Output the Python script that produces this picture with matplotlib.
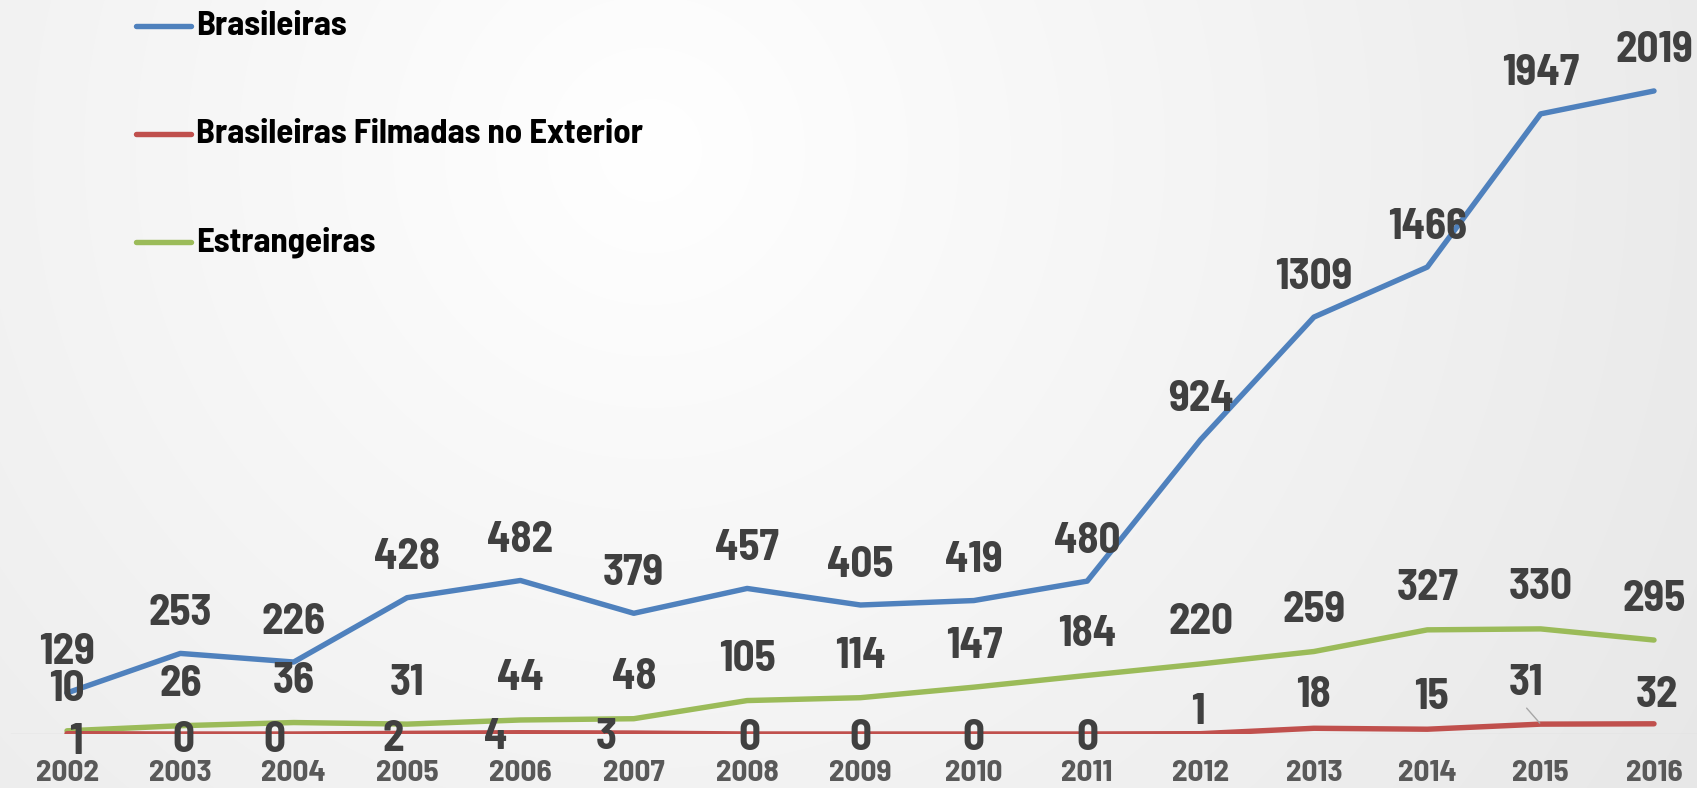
import numpy as np
import matplotlib
matplotlib.use("Agg")
import matplotlib.pyplot as plt
from matplotlib.lines import Line2D

# ---------------- data ----------------
years = [2002, 2003, 2004, 2005, 2006, 2007, 2008, 2009, 2010, 2011, 2012, 2013, 2014, 2015, 2016]
brasileiras = [129, 253, 226, 428, 482, 379, 457, 405, 419, 480, 924, 1309, 1466, 1947, 2019]
filmadas_exterior = [1, 0, 0, 2, 4, 3, 0, 0, 0, 0, 1, 18, 15, 31, 32]
estrangeiras = [10, 26, 36, 31, 44, 48, 105, 114, 147, 184, 220, 259, 327, 330, 295]
series_names = ["Brasileiras", "Brasileiras Filmadas no Exterior", "Estrangeiras"]

# ---------------- style ----------------
DPI = 100
W, H = 1697, 788
colors = ["#4F81BD", "#C0504D", "#9BBB59"]
COND = ["Barlow Semi Condensed", "DejaVu Sans"]
LABEL_COLOR = "#404040"
YEAR_COLOR = "#595959"
LW = 3.9

# label offsets in pixels (dx, dy up) for red series
red_dx = [9, 3, -19, -14, -25, -28, 2, 0, 0, 0, -3, 0, 4, -15, 3]
red_dy = [-9, -6, -6, -6, -5, -4, -4, -4, -4, -4, 21, 33, 32, 41, 28]

fig = plt.figure(figsize=(W / DPI, H / DPI), dpi=DPI)

# background radial gradient
bg = fig.add_axes([0, 0, 1, 1], zorder=-10)
yy, xx = np.mgrid[0:H, 0:W]
d = np.sqrt((xx - 650.0) ** 2 + (yy - 150.0) ** 2)
g = np.clip(1 - 0.08 * d / 1050.0, 0, 1)
bg.imshow(np.dstack([g, g, g]), extent=[0, W, H, 0], aspect="auto", interpolation="bilinear")
bg.set_axis_off()

# main axes
zero_px = 734  # from top
scale = 0.3185  # px per unit
ax = fig.add_axes([0, (H - zero_px) / H, 1, zero_px / H])
ax.patch.set_alpha(0)
x0_px, x1_px = 67, 1654
step = (x1_px - x0_px) / 14.0
ax.set_xlim(2002 - x0_px / step, 2002 + (W - x0_px) / step)
ax.set_ylim(0, zero_px / scale)
for s in ax.spines.values():
    s.set_visible(False)
ax.set_yticks([])
ax.axhline(0, xmin=11 / W, xmax=1, color="#d9d9d9", lw=1.0, zorder=1)

ax.set_xticks(years)
ax.set_xticklabels([str(y) for y in years], fontfamily=COND, fontweight="bold",
                   fontsize=22.5, color=YEAR_COLOR)
ax.tick_params(axis="x", length=0, pad=18.5)

all_series = [brasileiras, filmadas_exterior, estrangeiras]
zorders = [3, 4, 3]
for vals, c, name, z in zip(all_series, colors, series_names, zorders):
    ax.plot(years, vals, color=c, lw=LW, solid_capstyle="round", solid_joinstyle="round",
            zorder=z, label=name)

pt = 72.0 / DPI
lab_kw = dict(textcoords="offset points", ha="center", va="center",
              fontfamily=COND, fontweight="bold", fontsize=31, color=LABEL_COLOR, zorder=6)

for x, v in zip(years, brasileiras):
    ax.annotate(str(v), (x, v), xytext=(0, 40 * pt), **lab_kw)
for x, v in zip(years, estrangeiras):
    ax.annotate(str(v), (x, v), xytext=(0, 41 * pt), **lab_kw)
for x, v, dx, dy in zip(years, filmadas_exterior, red_dx, red_dy):
    ax.annotate(str(v), (x, v), xytext=(dx * pt, dy * pt), **lab_kw)

# leader line for 2015 red label
i15 = years.index(2015)
ax.annotate("", (years[i15], filmadas_exterior[i15]), xytext=(-14 * pt, 16 * pt),
            textcoords="offset points",
            arrowprops=dict(arrowstyle="-", color="#a6a6a6", lw=1.0, shrinkA=0, shrinkB=1),
            zorder=5)

# legend drawn manually
leg_y = [26, 134, 242]
for yv, c, name in zip(leg_y, colors, series_names):
    fy = 1 - yv / H
    fig.add_artist(Line2D([136 / W, 191 / W], [fy, fy], color=c, lw=LW,
                          solid_capstyle="round", transform=fig.transFigure))
    fig.text(196 / W, fy, name, ha="left", va="center", fontfamily=COND,
             fontweight="bold", fontsize=25, color="black")

fig.savefig("out.png", dpi=DPI)
